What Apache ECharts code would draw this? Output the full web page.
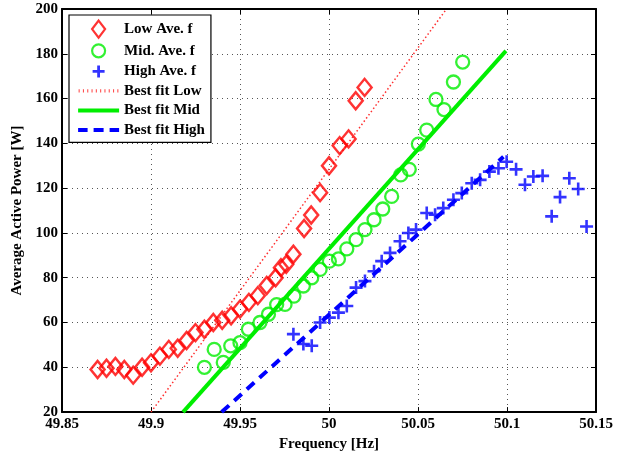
<!DOCTYPE html>
<html>
<head>
<meta charset="utf-8">
<script src="https://cdn.jsdelivr.net/npm/echarts@6/dist/echarts.min.js"></script>
<style>
html,body{margin:0;padding:0;background:#fff;}
#chart{width:624px;height:457px;}
</style>
</head>
<body>
<div id="chart"></div>
<script>
// ---- data ----
const xTicks = [49.85, 49.9, 49.95, 50, 50.05, 50.1, 50.15];
const yTicks = [20, 40, 60, 80, 100, 120, 140, 160, 180, 200];

const lowFreq  = [49.870, 49.875, 49.880, 49.885, 49.890, 49.895, 49.900, 49.905, 49.910, 49.915, 49.920, 49.925, 49.930, 49.935, 49.940, 49.945, 49.950, 49.955, 49.960, 49.965, 49.970, 49.973, 49.976, 49.980, 49.986, 49.990, 49.995, 50.000, 50.006, 50.011, 50.015, 50.020];
const lowPower = [39, 39.6, 40.4, 39, 36.5, 40, 42, 45, 48, 48.5, 52, 55.5, 57, 60, 61, 63, 66, 69, 72, 76.5, 80, 84.5, 86, 90.5, 102, 108, 118, 130, 139, 142, 159, 165];

const midFreq  = [49.930, 49.9355, 49.9406, 49.9448, 49.950, 49.9547, 49.9612, 49.966, 49.9706, 49.9753, 49.9803, 49.9856, 49.9903, 49.995, 50.0002, 50.0053, 50.010, 50.0152, 50.0202, 50.0253, 50.0302, 50.0352, 50.0403, 50.0451, 50.0502, 50.0549, 50.0601, 50.0646, 50.0699, 50.0751];
const midPower = [40, 48, 42.2, 49.6, 51, 57, 60, 63.7, 68, 68.1, 71.8, 76.3, 80, 83.7, 87.4, 88.4, 92.9, 97, 101.5, 105.9, 110.7, 116.3, 125.9, 128.4, 139.7, 145.9, 159.6, 155.1, 167.4, 176.3];

const highFreq  = [49.980, 49.9856, 49.9903, 49.995, 50.0002, 50.0053, 50.010, 50.0152, 50.0202, 50.0253, 50.0296, 50.0343, 50.0399, 50.0446, 50.0489, 50.0549, 50.0596, 50.0642, 50.0699, 50.0746, 50.0802, 50.0849, 50.0901, 50.0952, 50.0998, 50.1051, 50.1101, 50.1148, 50.1200, 50.1251, 50.1298, 50.1350, 50.1400, 50.1447];
const highPower = [54.8, 50.4, 49.6, 60, 62.2, 64.4, 67.4, 75.6, 78.5, 82.9, 87.4, 91.1, 96.3, 100, 101.5, 108.9, 108.1, 111.1, 114.8, 117.8, 122.2, 123.7, 127.4, 128.9, 131.8, 128.4, 121.5, 125.2, 125.5, 107.4, 116, 124.4, 119.6, 102.9];

const fitLowFreq   = [49.900, 50.066];
const fitLowPower  = [20, 200];
const fitMidFreq   = [49.918, 50.0994];
const fitMidPower  = [20, 181.3];
const fitHighFreq  = [49.9397, 50.098];
const fitHighPower = [20, 134];

const names = ['Low Ave. f', 'Mid. Ave. f', 'High Ave. f', 'Best fit Low', 'Best fit Mid', 'Best fit High'];

// ---- chart ----
const zip = (a, b) => a.map((v, i) => [v, b[i]]);
const FONT = "'Liberation Serif', 'Times New Roman', serif";
const plusPath = 'path://M4,0H6V4H10V6H6V10H4V6H0V4H4Z';

// legend icon shapes (style only)
const PAD = 'M-20.5,-8.5M20.5,8.5';
const iconDiamond = 'path://' + PAD + 'M0,-8.5L6.5,0L0,8.5L-6.5,0Z';
const iconCircle = 'path://' + PAD + 'M6.5,0A6.5,6.5,0,1,1,-6.5,0A6.5,6.5,0,1,1,6.5,0Z';
const iconPlus = 'path://' + PAD + 'M-6,-1.4H-1.4V-6H1.4V-1.4H6V1.4H1.4V6H-1.4V1.4H-6Z';
let dots = '';
for (let x = -20; x < 20; x += 4.3) dots += 'M' + x.toFixed(1) + ',-1.6H' + (x + 1.1).toFixed(1) + 'V1.6H' + x.toFixed(1) + 'Z';
const iconDotted = 'path://' + PAD + dots;
const iconSolid = 'path://' + PAD + 'M-20.5,-2H20.5V2H-20.5Z';
const iconDashed = 'path://' + PAD + 'M-20.5,-2H-11V2H-20.5Z M-5,-2H5V2H-5Z M11,-2H20.5V2H11Z';

const chart = echarts.init(document.getElementById('chart'), null, {renderer: 'canvas'});
const fmtX = v => parseFloat(v.toFixed(2)).toString();

const axisCommon = {
  axisLine: {show: true, lineStyle: {color: '#000', width: 2}},
  axisTick: {show: true, inside: true, length: 5, lineStyle: {color: '#000', width: 1}},
};

chart.setOption({
  animation: false,
  backgroundColor: '#fff',
  grid: {left: 62, right: 28, top: 9, bottom: 43.5, containLabel: false},
  xAxis: [
    Object.assign({
      type: 'value', min: xTicks[0], max: xTicks[xTicks.length - 1], interval: 0.05,
      name: 'Frequency [Hz]', nameLocation: 'middle', nameGap: 24,
      nameTextStyle: {fontFamily: FONT, fontWeight: 'bold', fontSize: 15, color: '#000'},
      axisLabel: {fontFamily: FONT, fontWeight: 'bold', fontSize: 15, color: '#000', margin: 5, formatter: fmtX},
      splitLine: {show: true, lineStyle: {color: '#555', type: [1, 4], width: 1}},
    }, axisCommon),
    Object.assign({
      type: 'value', position: 'top', min: xTicks[0], max: xTicks[xTicks.length - 1], interval: 0.05,
      axisLabel: {show: false}, splitLine: {show: false},
    }, axisCommon)
  ],
  yAxis: [
    Object.assign({
      type: 'value', min: yTicks[0], max: yTicks[yTicks.length - 1], interval: 20,
      name: 'Average Active Power [W]', nameLocation: 'middle', nameGap: 28,
      nameTextStyle: {fontFamily: FONT, fontWeight: 'bold', fontSize: 15, color: '#000'},
      axisLabel: {fontFamily: FONT, fontWeight: 'bold', fontSize: 15, color: '#000', margin: 4},
      splitLine: {show: true, lineStyle: {color: '#555', type: [1, 4], width: 1}},
    }, axisCommon),
    Object.assign({
      type: 'value', position: 'right', min: yTicks[0], max: yTicks[yTicks.length - 1], interval: 20,
      axisLabel: {show: false}, splitLine: {show: false},
    }, axisCommon)
  ],
  legend: {
    left: 69, top: 15, orient: 'vertical',
    backgroundColor: '#fff', borderColor: '#000', borderWidth: 1.2,
    padding: [4.5, 6, 4, 8],
    itemWidth: 41, itemHeight: 17, itemGap: 2.5,
    textStyle: {fontFamily: FONT, fontWeight: 'bold', fontSize: 15, color: '#000', lineHeight: 15},
    data: [
      {name: names[0], icon: iconDiamond, itemStyle: {color: 'rgba(0,0,0,0)', borderColor: '#ff0000', borderWidth: 2.2}},
      {name: names[1], icon: iconCircle, itemStyle: {color: 'rgba(0,0,0,0)', borderColor: '#00ee00', borderWidth: 2.2}},
      {name: names[2], icon: iconPlus, itemStyle: {color: '#0000ff', borderWidth: 0}},
      {name: names[3], icon: iconDotted, itemStyle: {color: '#ff5050', borderWidth: 0}},
      {name: names[4], icon: iconSolid, itemStyle: {color: '#00ee00', borderWidth: 0}},
      {name: names[5], icon: iconDashed, itemStyle: {color: '#0000ff', borderWidth: 0}}
    ]
  },
  series: [
    {
      name: names[0], type: 'scatter', data: zip(lowFreq, lowPower),
      symbol: 'diamond', symbolSize: [14, 17],
      itemStyle: {color: 'rgba(0,0,0,0)', borderColor: '#ff0000', borderWidth: 2.5},
      z: 3
    },
    {
      name: names[1], type: 'scatter', data: zip(midFreq, midPower),
      symbol: 'circle', symbolSize: 13,
      itemStyle: {color: 'rgba(0,0,0,0)', borderColor: '#00ee00', borderWidth: 2.3},
      z: 3
    },
    {
      name: names[2], type: 'scatter', data: zip(highFreq, highPower),
      symbol: plusPath, symbolSize: 13,
      itemStyle: {color: '#0000ff'},
      z: 3
    },
    {
      name: names[3], type: 'line', data: zip(fitLowFreq, fitLowPower),
      showSymbol: false, symbol: 'none', clip: true,
      lineStyle: {color: '#ff3030', width: 1.5, type: [1.5, 2.5]},
      itemStyle: {color: '#ff3030'},
      z: 2
    },
    {
      name: names[4], type: 'line', data: zip(fitMidFreq, fitMidPower),
      showSymbol: false, symbol: 'none', clip: true,
      lineStyle: {color: '#00ee00', width: 4, type: 'solid'},
      itemStyle: {color: '#00ee00'},
      z: 2
    },
    {
      name: names[5], type: 'line', data: zip(fitHighFreq, fitHighPower),
      showSymbol: false, symbol: 'none', clip: true,
      lineStyle: {color: '#0000ff', width: 4, type: [10, 7]},
      itemStyle: {color: '#0000ff'},
      z: 2
    }
  ]
});
</script>
</body>
</html>
